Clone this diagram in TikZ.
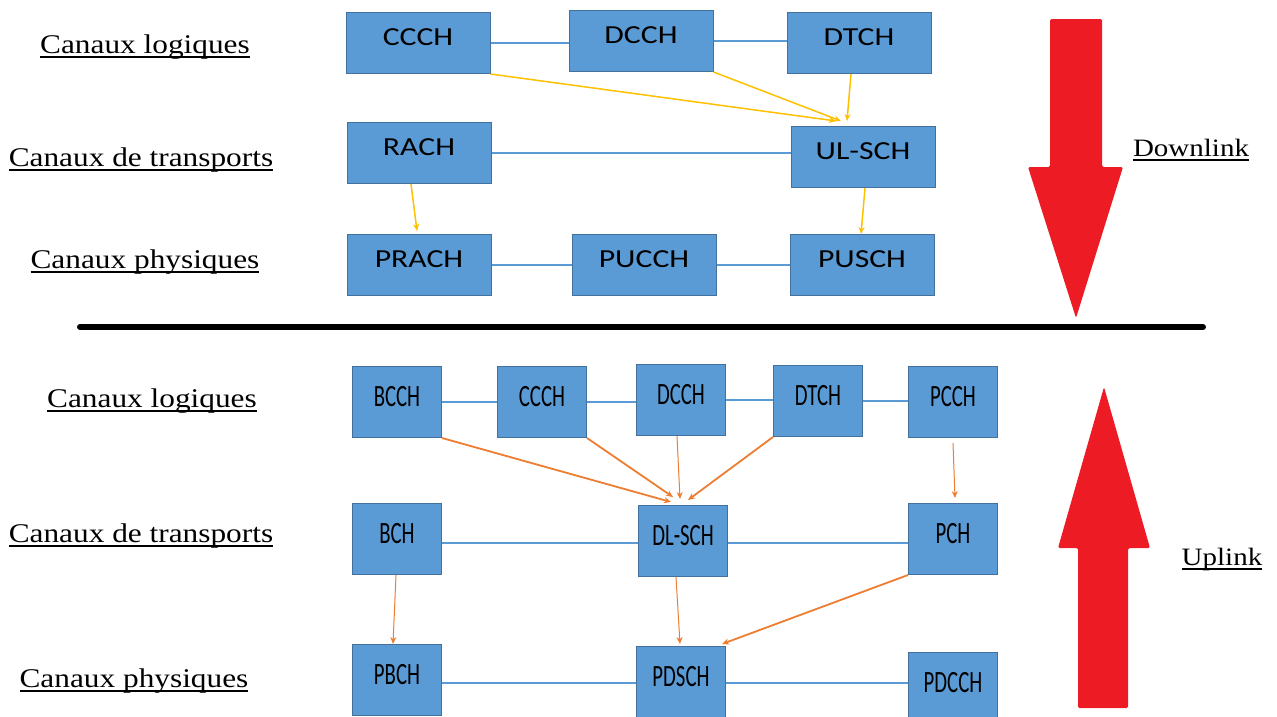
\documentclass[tikz,border=0pt]{standalone}
\usepackage{fontspec}
\usetikzlibrary{arrows.meta,calc}
\newfontfamily\boxfont[FakeStretch=1.22]{Carlito}
\newfontfamily\narrowfont[FakeStretch=0.67]{Carlito}
\newfontfamily\labelfont[FakeStretch=1.16]{Liberation Serif}
\definecolor{boxblue}{HTML}{5B9BD5}
\definecolor{boxedge}{HTML}{41719C}
\definecolor{linkyellow}{HTML}{FFC000}
\definecolor{linkorange}{HTML}{ED7D31}
\definecolor{bigred}{HTML}{ED1C24}
\newcommand\ulbox[1]{\setbox0\hbox{#1}\rlap{\rule[-4.5pt]{\wd0}{1.6pt}}\box0}

\begin{document}
\begin{tikzpicture}[x=1pt,y=-1pt]
				\tikzset{chan/.style={draw=boxedge,line width=1pt,fill=boxblue,inner sep=0pt,minimum width=144pt,minimum height=61pt,text height=9pt,text depth=5pt,font=\boxfont\fontsize{26}{26}\selectfont}}
				\tikzset{nchan/.style={chan,minimum width=89pt,minimum height=71pt,text height=14pt,text depth=5pt,font=\narrowfont\fontsize{31}{31}\selectfont}}
				\tikzset{layer/.style={anchor=base,inner sep=0pt,font=\labelfont\fontsize{27}{27}\selectfont}}
				\tikzset{sense/.style={layer,font=\labelfont\fontsize{25}{25}\selectfont}}
				\tikzset{link/.style={boxblue,line width=1.3pt}}
				\tikzset{tolink/.style={linkyellow,line width=1.5pt,-{Stealth[length=7pt,width=6pt]}}}
				\tikzset{dolink/.style={linkorange,line width=1.8pt,-{Stealth[length=7pt,width=6pt]}}}
				\tikzset{thinlink/.style={dolink,line width=1pt}}
				\useasboundingbox (0,0) rectangle (1277,716);
				\node[layer] (logtop) at (145,53) {\ulbox{Canaux logiques}};
				\node[layer] (trtop) at (141,166) {\ulbox{Canaux de transports}};
				\node[layer] (phytop) at (145,268) {\ulbox{Canaux physiques}};
				\node[layer] (logbot) at (152,407) {\ulbox{Canaux logiques}};
				\node[layer] (trbot) at (141,542) {\ulbox{Canaux de transports}};
				\node[layer] (phybot) at (134,687) {\ulbox{Canaux physiques}};
				\node[sense] (down) at (1191,156) {\ulbox{Downlink}};
				\node[sense] (up) at (1222,565) {\ulbox{Uplink}};
				\node[chan] (ccchA) at (418,43) {CCCH};
				\node[chan] (dcchA) at (641,41) {DCCH};
				\node[chan] (dtchA) at (859,43) {DTCH};
				\node[chan] (rach) at (419,153) {RACH};
				\node[chan] (ulsch) at (863,157) {UL-SCH};
				\node[chan] (prach) at (419,265) {PRACH};
				\node[chan] (pucch) at (644,265) {PUCCH};
				\node[chan] (pusch) at (862,265) {PUSCH};
				\draw[link] (ccchA.east) -- (ccchA.east -| dcchA.west);
				\draw[link] (dcchA.east) -- (dcchA.east -| dtchA.west);
				\draw[link] (rach.east) -- (rach.east -| ulsch.west);
				\draw[link] (prach) -- (pucch);
				\draw[link] (pucch) -- (pusch);
				\draw[tolink] (ccchA.south east) -- ([xshift=-27pt,yshift=5pt]ulsch.north);
				\draw[tolink] (dcchA.south east) -- ([xshift=-22pt,yshift=5pt]ulsch.north);
				\draw[tolink] ([xshift=-8pt]dtchA.south) -- ([xshift=-16pt,yshift=5pt]ulsch.north);
				\draw[tolink] ([xshift=-8pt]rach.south) -- ([xshift=-2pt,yshift=3pt]prach.north);
				\draw[tolink] ([xshift=2pt]ulsch.south) -- ([xshift=-1pt]pusch.north);
				\coordinate (sepl) at (80,327);
				\coordinate (sepr) at (1203,327);
				\draw[line width=6pt,line cap=round] (sepl) -- (sepr);
				\fill[bigred,rounded corners=1.5pt] (1050,19) -- (1102,19) -- (1102,167) -- (1123,167) -- (1076,318) -- (1028,167) -- (1050,167) -- cycle;
				\fill[bigred,rounded corners=1.5pt] (1078,708) -- (1128,708) -- (1128,548) -- (1150,548) -- (1104,387) -- (1058,548) -- (1078,548) -- cycle;
				\node[nchan] (bcch) at (397,402) {BCCH};
				\node[nchan] (ccchB) at (542,402) {CCCH};
				\node[nchan] (dcchB) at (681,400) {DCCH};
				\node[nchan] (dtchB) at (818,401) {DTCH};
				\node[nchan] (pcch) at (953,402) {PCCH};
				\node[nchan] (bch) at (397,539) {BCH};
				\node[nchan] (dlsch) at (683,541) {DL-SCH};
				\node[nchan] (pch) at (953,539) {PCH};
				\node[nchan] (pbch) at (397,680) {PBCH};
				\node[nchan] (pdsch) at (681,682) {PDSCH};
				\node[nchan] (pdcch) at (953,688) {PDCCH};
				\draw[link] (bcch.east) -- (bcch.east -| ccchB.west);
				\draw[link] (ccchB.east) -- (ccchB.east -| dcchB.west);
				\draw[link] (dcchB.east) -- (dcchB.east -| dtchB.west);
				\draw[link] (dtchB.east) -- (dtchB.east -| pcch.west);
				\draw[link] ([yshift=-4pt]bch.east) -- ([yshift=-4pt]bch.east -| dlsch.west);
				\draw[link] ([yshift=-2pt]dlsch.east) -- ([yshift=-2pt]dlsch.east -| pch.west);
				\draw[link] ([yshift=-3pt]pbch.east) -- ([yshift=-3pt]pbch.east -| pdsch.west);
				\draw[link] ([yshift=-1pt]pdsch.east) -- ([yshift=-1pt]pdsch.east -| pdcch.west);
				\draw[dolink] (bcch.south east) -- ([xshift=-12pt,yshift=3pt]dlsch.north);
				\draw[dolink] (ccchB.south east) -- ([xshift=-10pt,yshift=8pt]dlsch.north);
				\draw[thinlink] ([xshift=-4pt]dcchB.south) -- ([xshift=-3pt,yshift=6pt]dlsch.north);
				\draw[dolink] (dtchB.south west) -- ([xshift=5pt,yshift=5pt]dlsch.north);
				\draw[thinlink] ([yshift=-5pt]pcch.south) -- ([xshift=2pt,yshift=5pt]pch.north);
				\draw[thinlink] ([xshift=-1pt]bch.south) -- ([xshift=-4pt]pbch.north);
				\draw[thinlink] ([xshift=-7pt]dlsch.south) -- ([xshift=-1pt,yshift=2pt]pdsch.north);
				\draw[dolink] (pch.south west) -- ([xshift=-4pt,yshift=2pt]pdsch.north east);
			\end{tikzpicture}
\end{document}
